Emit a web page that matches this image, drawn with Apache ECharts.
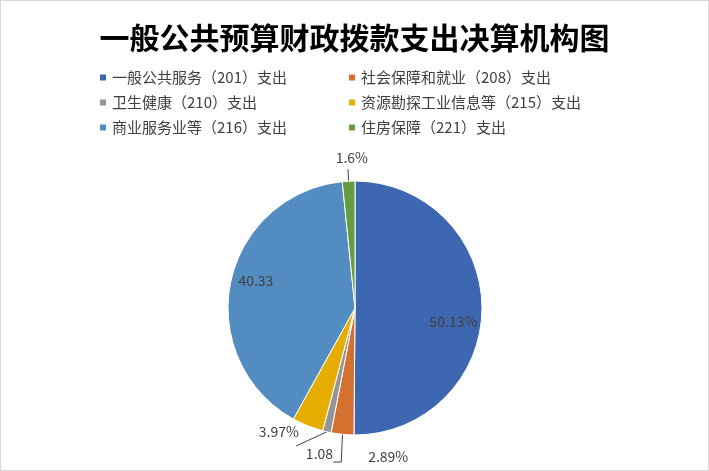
<!DOCTYPE html>
<html>
<head>
<meta charset="utf-8">
<script src="https://cdn.jsdelivr.net/npm/echarts@6/dist/echarts.min.js"></script>
<style>
  html, body { margin: 0; padding: 0; background: #fff; }
  #chart { width: 707px; height: 469px; border: 1px solid #d9d9d9; }
</style>
</head>
<body>
<div id="chart"></div>
<script>
const titleText = '一般公共预算财政拨款支出决算机构图';
const categories = [
  '一般公共服务（201）支出',
  '社会保障和就业（208）支出',
  '卫生健康（210）支出',
  '资源勘探工业信息等（215）支出',
  '商业服务业等（216）支出',
  '住房保障（221）支出',
];
const values = [50.13, 2.89, 1.08, 3.97, 40.33, 1.6];
const labelTexts = ['50.13%', '2.89%', '1.08', '3.97%', '40.33', '1.6%'];
const colors = ['#3d67b0', '#d57130', '#959595', '#e6ad00', '#528cc0', '#659c40'];

(() => {
  const chart = echarts.init(document.getElementById('chart'), null, { renderer: 'canvas' });
  const font = '"Noto Sans CJK SC", "Noto Sans", sans-serif';
  const inside = [0, 4];
  // nudges to put the labels where the original spreadsheet chart had them
  const nudges = { 0: [32, 13], 1: [80, -5], 2: [42, 8], 3: [38, 2], 4: [-34, -14], 5: [25, -11] };

  const data = values.map((value, i) => {
    const item = { name: categories[i], value };
    if (inside.includes(i)) {
      item.label = { position: 'inside' };
      item.labelLine = { show: false };
    } else if (i === 3) {
      item.labelLine = { show: false };
    } else if (i === 1) {
      item.labelLine = { length: 12, length2: 8 };
    } else {
      item.labelLine = { length2: 0 };
    }
    return item;
  });

  const legendBase = {
    orient: 'vertical',
    top: 64,
    itemGap: 10,
    itemWidth: 8,
    itemHeight: 8,
    icon: 'rect',
    textStyle: { fontSize: 15, color: '#404040', fontFamily: font },
  };

  chart.setOption({
    animation: false,
    color: colors,
    title: {
      text: titleText,
      left: 'center',
      top: 17,
      textStyle: { fontSize: 30, fontWeight: 'bold', color: '#000', fontFamily: font },
    },
    legend: [
      { ...legendBase, left: 92, data: [categories[0], categories[2], categories[4]] },
      { ...legendBase, left: 341, data: [categories[1], categories[3], categories[5]] },
    ],
    series: [{
      type: 'pie',
      center: [354, 307],
      radius: [0, 127],
      startAngle: 90,
      clockwise: true,
      avoidLabelOverlap: true,
      itemStyle: { borderColor: '#fff', borderWidth: 1 },
      label: {
        formatter: (p) => labelTexts[p.dataIndex],
        fontSize: 14,
        color: '#404040',
        fontFamily: font,
      },
      labelLine: { length: 12, length2: 8, minTurnAngle: 60, lineStyle: { color: '#404040', width: 1 } },
      labelLayout: (p) => {
        const n = nudges[p.dataIndex];
        return n ? { dx: n[0], dy: n[1] } : {};
      },
      emphasis: { disabled: true },
      data,
    }],
  });
})();
</script>
</body>
</html>
